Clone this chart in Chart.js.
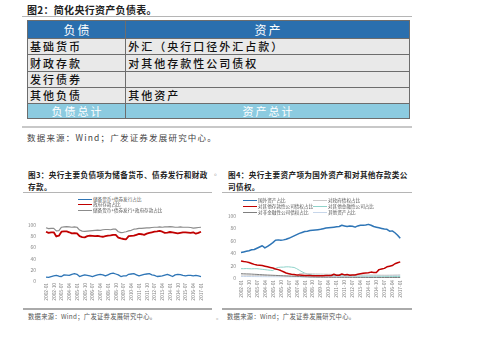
<!DOCTYPE html>
<html>
<head>
<meta charset="utf-8">
<script src="https://cdn.jsdelivr.net/npm/chart.js@4.4.1/dist/chart.umd.min.js"></script>
<style>
  body { margin: 0; background: #fff; font-family: "Noto Sans CJK SC", sans-serif; }
  #page { position: relative; width: 485px; height: 341px; overflow: hidden; }
  .abs { position: absolute; white-space: nowrap; }
  .rule { position: absolute; height: 1px; background: #b5b5b5; }
  table { position: absolute; left: 27px; top: 20px; width: 383px; border-collapse: collapse; }
  td { border: 1px solid #6d6d6d; padding: 0 0 0 2px; font-size: 11px; line-height: 1; letter-spacing: 2px; color: #111; background: #e9e9e9; font-weight: 500; }
  tr.head td { background: #2a6fae; color: #fff; text-align: center; font-size: 12px; font-weight: 400; }
  tr.foot td { background: #8ccbe0; color: #fff; text-align: center; font-weight: 400; }
  .legend { position: absolute; font-size: 4.6px; color: #555; line-height: 1; }
  .legend div { position: absolute; white-space: nowrap; }
  .legend span { display: inline-block; vertical-align: middle; margin-right: 1px; }
  canvas { position: absolute; }
</style>
</head>
<body>
<div id="page">
  <div class="abs" style="left:27px;top:2px;font-size:10px;font-weight:700;letter-spacing:0.3px;color:#222;">图2：简化央行资产负债表。</div>
  <div class="rule" style="left:22px;top:16px;width:390px;"></div>
  <table>
    <tr class="head" style="height:18px"><td>负债</td><td>资产</td></tr>
    <tr style="height:16px"><td>基础货币</td><td>外汇（央行口径外汇占款）</td></tr>
    <tr style="height:17px"><td>财政存款</td><td>对其他存款性公司债权</td></tr>
    <tr style="height:16px"><td>发行债券</td><td></td></tr>
    <tr style="height:16px"><td>其他负债</td><td>其他资产</td></tr>
    <tr class="foot" style="height:15px"><td>负债总计</td><td>资产总计</td></tr>
  </table>
  <div class="rule" style="left:22px;top:126px;width:390px;height:2px;background:#c8c8c8;"></div>
  <div class="abs" style="left:27px;top:131px;font-size:8.5px;letter-spacing:1.2px;color:#444;">数据来源：Wind；广发证券发展研究中心。</div>

  <div class="abs" style="left:28px;top:169px;font-size:7.6px;font-weight:700;letter-spacing:0.35px;line-height:12px;color:#222;">图3：央行主要负债项为储备货币、债券发行和财政<br>存款。</div>
  <div class="abs" style="left:214px;top:167px;font-size:7px;color:#999;">。</div>
  <div class="abs" style="left:228px;top:169px;font-size:7.6px;font-weight:700;letter-spacing:0.35px;line-height:12px;color:#222;">图4：央行主要资产项为国外资产和对其他存款类公<br>司债权。</div>
  <div class="rule" style="left:23px;top:192px;width:189px;"></div>
  <div class="rule" style="left:222px;top:192px;width:190px;"></div>

  <canvas id="c3" width="190" height="95" style="left:20px;top:212px;"></canvas>
  <canvas id="c4" width="186" height="97" style="left:222px;top:208px;"></canvas>
  <div class="legend" id="leg3"></div>
  <div class="legend" id="leg4"></div>

  <div class="rule" style="left:23px;top:308px;width:189px;height:1.5px;background:#aaa;"></div>
  <div class="rule" style="left:222px;top:308px;width:190px;height:1.5px;background:#aaa;"></div>
  <div class="abs" style="left:28px;top:312px;font-size:6.3px;letter-spacing:0.3px;color:#555;">数据来源：Wind；广发证券发展研究中心。</div>
  <div class="abs" style="left:216px;top:312px;font-size:6px;color:#aaa;">。</div>
  <div class="abs" style="left:227px;top:312px;font-size:6.3px;letter-spacing:0.3px;color:#555;">数据来源：Wind；广发证券发展研究中心。</div>
</div>

<script>
// quarterly dates, every third one is shown as a tick label
const quarters = [
  '2002-01','2002-04','2002-07','2002-10','2003-01','2003-04','2003-07','2003-10',
  '2004-01','2004-04','2004-07','2004-10','2005-01','2005-04','2005-07','2005-10',
  '2006-01','2006-04','2006-07','2006-10','2007-01','2007-04','2007-07','2007-10',
  '2008-01','2008-04','2008-07','2008-10','2009-01','2009-04','2009-07','2009-10',
  '2010-01','2010-04','2010-07','2010-10','2011-01','2011-04','2011-07','2011-10',
  '2012-01','2012-04','2012-07','2012-10','2013-01','2013-04','2013-07','2013-10',
  '2014-01','2014-04','2014-07','2014-10','2015-01','2015-04','2015-07','2015-10',
  '2016-01','2016-04','2016-07','2016-10','2017-01'
];
const yTicks = [0, 20, 40, 60, 80, 100];

// 图3 负债
const liabLabels = ['储备货币+债券发行占比', '政府存款占比', '储备货币+债券发行+政府存款占比'];
const reserveBond = [7, 6.5, 8, 9, 10, 8.5, 8, 11, 10.5, 10, 12, 13, 12, 8, 9.5, 11, 10, 9, 8, 9.5,
  11, 12, 11, 9, 11, 13, 14, 12.5, 11, 8, 9, 9, 12, 12.5, 13, 11, 9, 10.5, 12, 12.5,
  13, 11, 10, 8, 8.5, 9, 10.5, 12, 10, 8, 11, 12, 11.5, 10, 9, 10, 10, 9, 10, 9, 8];
const govDeposit = [88, 86, 87, 87, 79.5, 81, 88, 88.5, 88.5, 87, 85, 85.5, 85, 80, 78.5, 78, 80, 81, 80.5, 80,
  80.5, 79.5, 79, 80, 81, 81.5, 82.5, 82.5, 77.5, 76, 75, 74.5, 80, 80.5, 81, 82.5, 84, 83.5, 82.5, 84.5,
  86, 87, 88, 88.5, 89.5, 88, 86, 86.5, 87.5, 87, 86, 85, 86, 87, 87, 86.5, 86, 87, 84.5, 86, 88];
const liabTotal = [95, 93.5, 94, 94, 89.5, 90, 96, 96.5, 97, 96.5, 96, 96.5, 96, 91, 89, 88.5, 89, 89.5, 90, 90.5,
  91, 90.5, 91.5, 92, 92, 91.5, 92.5, 92.5, 88, 86.5, 87, 88, 89.5, 90.5, 92.5, 93, 94, 94, 94.5, 95,
  95, 95.5, 96, 96, 96.5, 96, 96.5, 96.5, 97, 96.5, 96, 96, 96.5, 96, 96, 96, 95.5, 94.5, 95, 95.5, 96];
const liabColors = ['#2e75b6', '#c00000', '#8c8c8c'];

// 图4 资产
const assetLabels = ['国外资产占比', '对其他存款性公司债权占比', '对非金融性公司债权占比',
  '对政府债权占比', '对其他金融性公司占比', '其他资产占比'];
const foreignAssets = [41, 42, 43, 44, 45.5, 46, 48, 50, 52, 48.5, 51, 54, 57, 61, 61.5, 61, 61.5, 62.5, 64, 66,
  68, 70, 72, 73.5, 75, 75.5, 76.5, 77, 77.5, 78, 78.5, 79.5, 80.5, 81, 81.5, 82, 82.5, 83, 85, 84,
  83, 84, 83.5, 82, 84, 85, 85, 85.5, 86.5, 85, 83, 82, 81, 80, 79, 78.5, 75.5, 76, 73, 69, 64];
const claimsBanks = [27.5, 26.5, 26, 25, 23.5, 22, 21, 20.5, 20, 19, 18, 17, 16, 14.5, 13.5, 12, 10, 8, 7, 6,
  5.5, 5, 4.8, 4.5, 4.2, 4, 4, 3.8, 3.5, 3.5, 3.5, 3.8, 4, 4.2, 4, 6, 4.5, 4.5, 6.5, 5,
  5.5, 4.5, 5, 5, 6, 7, 7.5, 8, 8.5, 9.5, 9, 9, 13.5, 14.5, 15.5, 18, 19, 20, 23, 24.5, 26];
const claimsNonFin = [7, 6.8, 6.6, 6.5, 6.3, 6, 5.8, 5.5, 5.3, 5, 4.8, 4.6, 4.4, 4.2, 4, 3.8, 3.6, 3.4, 3.2, 3,
  2.8, 2.6, 2.4, 2.2, 2, 1.8, 1.6, 1.5, 1.4, 1.3, 1.3, 1.2, 1.2, 1.2, 1.1, 1.1, 1.1, 1, 1, 1,
  1, 1, 1, 0.9, 0.9, 0.9, 0.9, 0.9, 0.8, 0.8, 0.8, 0.8, 0.8, 0.8, 0.8, 0.8, 0.8, 0.8, 0.8, 0.8, 0.8];
const claimsGov = [4.8, 4.7, 4.6, 4.5, 4.4, 4.3, 4.2, 4.1, 4, 3.9, 3.8, 3.7, 3.6, 3.5, 3.4, 3.3, 3.2, 3.1, 3, 3,
  3, 3, 7, 7.2, 7, 6.9, 6.8, 6.7, 6.6, 6.5, 6.4, 6.2, 6.1, 6, 5.9, 5.8, 5.7, 5.6, 5.5, 5.5,
  5.4, 5.3, 5.2, 5.2, 5.1, 5, 5, 4.9, 4.8, 4.8, 4.7, 4.7, 4.6, 4.6, 4.5, 4.5, 4.6, 4.7, 4.8, 4.9, 5];
const claimsOtherFin = [15, 15, 15.2, 15, 14.8, 15, 15, 14.5, 14, 13.5, 13, 12.5, 12, 15.5, 17, 17.5, 17.5, 18, 18, 17.5,
  17, 15, 12.5, 10, 8, 6.5, 5.5, 5, 4.5, 4.5, 4.3, 4.2, 4.2, 4, 4, 4, 3.9, 3.8, 3.7, 3.6,
  3.5, 3.5, 3.4, 3.3, 3.2, 3.2, 3.1, 3, 3, 3, 2.9, 2.9, 2.8, 2.8, 2.7, 2.7, 2.6, 2.6, 2.5, 2.5, 2.4];
const otherAssets = [2.5, 2.5, 2.4, 2.4, 2.3, 2.3, 2.2, 2.2, 2.1, 2.1, 2, 2, 2, 2, 1.9, 1.9, 1.9, 1.8, 1.8, 1.8,
  1.8, 1.7, 1.7, 1.7, 1.7, 1.8, 1.8, 1.9, 2, 2, 2.1, 2.1, 2.2, 2.2, 2.3, 2.3, 2.4, 2.4, 2.5, 2.5,
  2.6, 2.6, 2.7, 2.7, 2.8, 2.8, 2.9, 3, 3, 3.1, 3.2, 3.3, 3.4, 3.5, 3.6, 3.7, 3.8, 3.9, 4, 4.1, 4.2];
const assetColors = ['#2e75b6', '#c00000', '#7f7f7f', '#c9c9c9', '#8fd3ca', '#c7d6ea'];
const assetWidths = [1.5, 1.5, 1, 1, 1, 1];

function tickFont(size) {
  return { family: 'Noto Sans CJK SC', size: size };
}

function makeOptions(yWidth, yPad, xHeight, padding) {
  return {
    responsive: false,
    animation: false,
    layout: { padding: padding },
    plugins: { legend: { display: false }, tooltip: { enabled: false } },
    elements: { point: { radius: 0 }, line: { tension: 0, borderJoinStyle: 'round' } },
    scales: {
      x: {
        grid: { display: false, drawTicks: false },
        border: { display: false },
        ticks: {
          autoSkip: false, minRotation: 90, maxRotation: 90, padding: 2,
          color: '#888', font: tickFont(4.8),
          callback: (v, i) => (i % 3 === 0 ? quarters[i] : null)
        },
        afterFit: s => { s.height = xHeight; }
      },
      y: {
        min: 0, max: 100,
        afterBuildTicks: s => { s.ticks = yTicks.map(v => ({ value: v })); },
        grid: { display: false, drawTicks: false },
        border: { display: false },
        ticks: { padding: yPad, color: '#888', font: tickFont(5) },
        afterFit: s => { s.width = yWidth; }
      }
    }
  };
}

new Chart(document.getElementById('c3'), {
  type: 'line',
  data: {
    labels: quarters,
    datasets: [
      { label: liabLabels[0], data: reserveBond, borderColor: liabColors[0], borderWidth: 1.3 },
      { label: liabLabels[1], data: govDeposit, borderColor: liabColors[1], borderWidth: 1.8 },
      { label: liabLabels[2], data: liabTotal, borderColor: liabColors[2], borderWidth: 1.2 }
    ]
  },
  options: makeOptions(26, 10, 26, { top: 5, right: 9, left: 0, bottom: 0 })
});

const assetSeries = [foreignAssets, claimsBanks, claimsNonFin, claimsGov, claimsOtherFin, otherAssets];
new Chart(document.getElementById('c4'), {
  type: 'line',
  data: {
    labels: quarters,
    datasets: assetSeries.map((d, i) => ({
      label: assetLabels[i], data: d, borderColor: assetColors[i], borderWidth: assetWidths[i]
    }))
  },
  options: makeOptions(19, 5, 27, { top: 6, right: 5, left: 0, bottom: 0 })
});

// legends drawn as html text
function legendItem(x, y, label, color, w) {
  return '<div style="left:' + x + 'px;top:' + y + 'px"><span style="width:14px;border-top:' + w +
    'px solid ' + color + '"></span>' + label + '</div>';
}
let h3 = '';
liabLabels.forEach((l, i) => { h3 += legendItem(78, 196.5 + i * 5.7, l, liabColors[i], i === 1 ? 1.8 : 1.2); });
document.getElementById('leg3').innerHTML = h3;
let h4 = '';
assetLabels.forEach((l, i) => {
  const col = i < 3 ? 0 : 1;
  const row = i % 3;
  h4 += legendItem(col ? 313 : 243, 197.5 + row * 6, l, assetColors[i], assetWidths[i]);
});
document.getElementById('leg4').innerHTML = h4;
</script>
</body>
</html>
